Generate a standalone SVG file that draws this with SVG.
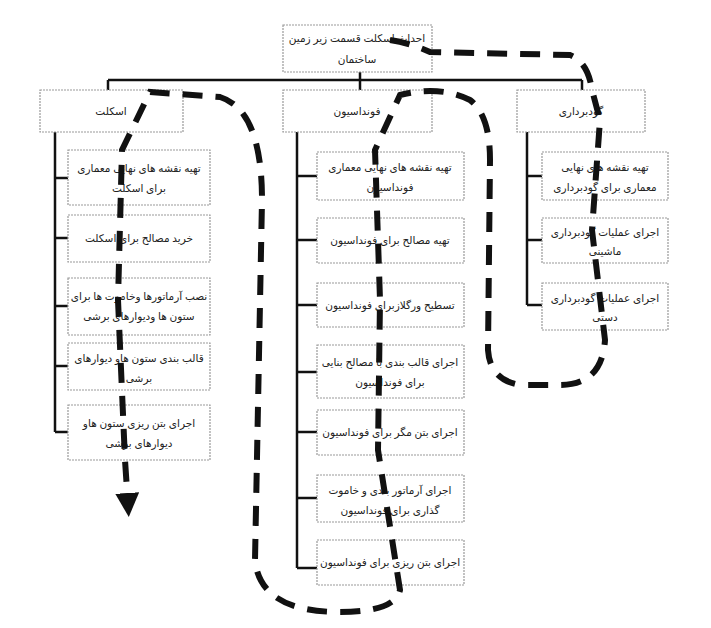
<svg xmlns="http://www.w3.org/2000/svg" width="711" height="628" viewBox="0 0 711 628">
<style>
.b{fill:#fff;stroke:#999;stroke-width:1.2;stroke-dasharray:2 1}
.t{font-family:"Noto Sans","DejaVu Sans",sans-serif;font-size:10.5px;fill:#222;text-anchor:middle}
.l{stroke:#111;stroke-width:2.5;fill:none}
</style>
<defs><marker id="ah" markerWidth="4" markerHeight="4" refX="2" refY="2" orient="auto" markerUnits="strokeWidth"><path d="M0,0L4,2L0,4z" fill="#111"/></marker></defs>
<rect width="711" height="628" fill="#fff"/>
<g id="connectors">
<path class="l" d="M360 72V80M108 80H582M108 80V90M360 80V90M582 80V90"/>
<path class="l" d="M55 132V432M55 178H68M55 238H68M55 306H68M55 366H68M55 432H68"/>
<path class="l" d="M297 132V568M297 176H317M297 240H317M297 305H317M297 372H317M297 432H317M297 498H317M297 568H317"/>
<path class="l" d="M527 132V305M527 176H542M527 240H542M527 305H542"/>
</g>
<g id="n0"><rect class="b" x="283" y="25" width="149" height="47"/><text class="t" x="357" y="42">احداث اسکلت قسمت زیر زمین</text><text class="t" x="357" y="63">ساختمان</text></g>
<g id="n1"><rect class="b" x="40" y="90" width="143" height="42"/><text class="t" x="111" y="115">اسکلت</text></g>
<g id="n2"><rect class="b" x="283" y="90" width="149" height="42"/><text class="t" x="357" y="115">فونداسیون</text></g>
<g id="n3"><rect class="b" x="517" y="90" width="128" height="42"/><text class="t" x="581" y="115">گودبرداری</text></g>
<g id="a1"><rect class="b" x="68" y="150" width="142" height="55"/><text class="t" x="139" y="172">تهیه نقشه های نهایی معماری</text><text class="t" x="139" y="192">برای اسکلت</text></g>
<g id="a2"><rect class="b" x="68" y="215" width="142" height="47"/><text class="t" x="139" y="242">خرید مصالح برای اسکلت</text></g>
<g id="a3"><rect class="b" x="68" y="278" width="142" height="57"/><text class="t" x="139" y="300">نصب آرماتورها وخاموت ها برای</text><text class="t" x="139" y="320">ستون ها ودیوارهای برشی</text></g>
<g id="a4"><rect class="b" x="68" y="343" width="142" height="47"/><text class="t" x="139" y="362">قالب بندی ستون هاو دیوارهای</text><text class="t" x="139" y="382">برشی</text></g>
<g id="a5"><rect class="b" x="68" y="405" width="142" height="55"/><text class="t" x="139" y="427">اجرای بتن ریزی ستون هاو</text><text class="t" x="139" y="447">دیوارهای برشی</text></g>
<g id="f1"><rect class="b" x="317" y="152" width="147" height="48"/><text class="t" x="390" y="171">تهیه نقشه های نهایی معماری</text><text class="t" x="390" y="191">فونداسیون</text></g>
<g id="f2"><rect class="b" x="317" y="218" width="147" height="45"/><text class="t" x="390" y="244">تهیه مصالح  برای فونداسیون</text></g>
<g id="f3"><rect class="b" x="317" y="283" width="147" height="44"/><text class="t" x="390" y="309">تسطیح ورگلازبرای فونداسیون</text></g>
<g id="f4"><rect class="b" x="317" y="345" width="147" height="53"/><text class="t" x="390" y="366">اجرای قالب بندی  با مصالح بنایی</text><text class="t" x="390" y="386">برای فونداسیون</text></g>
<g id="f5"><rect class="b" x="317" y="410" width="147" height="45"/><text class="t" x="390" y="436">اجرای بتن مگر برای فونداسیون</text></g>
<g id="f6"><rect class="b" x="317" y="475" width="147" height="47"/><text class="t" x="390" y="494">اجرای آرماتور بندی و خاموت</text><text class="t" x="390" y="514">گذاری برای فونداسیون</text></g>
<g id="f7"><rect class="b" x="317" y="540" width="147" height="45"/><text class="t" x="390" y="566">اجرای بتن ریزی برای فونداسیون</text></g>
<g id="g1"><rect class="b" x="542" y="152" width="126" height="48"/><text class="t" x="605" y="171">تهیه نقشه های نهایی</text><text class="t" x="605" y="191">معماری برای گودبرداری</text></g>
<g id="g2"><rect class="b" x="542" y="218" width="126" height="45"/><text class="t" x="605" y="236">اجرای عملیات گودبرداری</text><text class="t" x="605" y="255">ماشینی</text></g>
<g id="g3"><rect class="b" x="542" y="283" width="126" height="47"/><text class="t" x="605" y="302">اجرای عملیات گودبرداری</text><text class="t" x="605" y="321">دستی</text></g>
<g id="flow">
<path d="M390 40Q410 43 430 52L570 55Q588 62 592 90L600 120L592 230L605 340Q602 385 560 385L520 385Q490 380 488 350L490 160Q490 115 470 100Q440 85 400 95L375 150L380 300L378 450L400 590Q395 612 340 612Q260 612 255 560L262 200Q262 110 220 97L150 92L122 150L118 300L125 460L128 505" fill="none" stroke="#111" stroke-width="6" stroke-dasharray="20 13" marker-end="url(#ah)"/>
</g>
</svg>
